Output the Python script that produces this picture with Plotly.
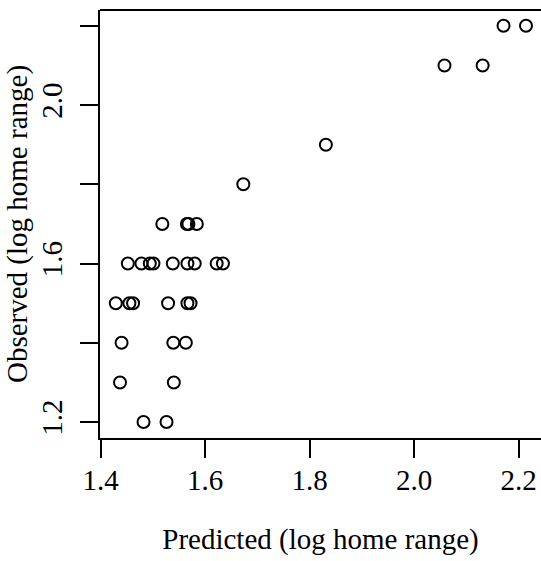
import plotly.graph_objects as go

predicted = [2.171, 2.214, 2.058, 2.131, 1.831, 1.673,
             1.518, 1.565, 1.568, 1.584,
             1.452, 1.478, 1.494, 1.501, 1.538, 1.566, 1.580, 1.622, 1.634,
             1.429, 1.455, 1.462, 1.529, 1.566, 1.572,
             1.440, 1.539, 1.563,
             1.437, 1.540,
             1.482, 1.526]
observed = [2.2, 2.2, 2.1, 2.1, 1.9, 1.8,
            1.7, 1.7, 1.7, 1.7,
            1.6, 1.6, 1.6, 1.6, 1.6, 1.6, 1.6, 1.6, 1.6,
            1.5, 1.5, 1.5, 1.5, 1.5, 1.5,
            1.4, 1.4, 1.4,
            1.3, 1.3,
            1.2, 1.2]

x_ticks = [1.4, 1.6, 1.8, 2.0, 2.2]
x_ticklabels = ["1.4", "1.6", "1.8", "2.0", "2.2"]
y_ticks = [1.2, 1.4, 1.6, 1.8, 2.0, 2.2]
y_ticklabels = ["1.2", "", "1.6", "", "2.0", ""]

FONT = "Liberation Serif, Times New Roman, serif"
FS = 29

fig = go.Figure()
fig.add_trace(go.Scatter(
    x=predicted, y=observed, mode="markers",
    marker=dict(symbol="circle-open", size=12, color="black",
                line=dict(width=2, color="black")),
    showlegend=False, cliponaxis=False,
))

fig.update_layout(
    width=541, height=561,
    margin=dict(l=100, r=0, t=10, b=123),
    paper_bgcolor="white", plot_bgcolor="white",
    font=dict(family=FONT, size=FS, color="black"),
    xaxis=dict(
        range=[1.3987, 2.2427], showgrid=False, zeroline=False,
        showline=True, linecolor="black", linewidth=2,
        ticks="outside", ticklen=18, tickwidth=2, tickcolor="black",
        tickvals=x_ticks, ticktext=x_ticklabels, ticklabelstandoff=-3,
        tickfont=dict(family=FONT, size=FS),
        title=dict(text="Predicted (log home range)", font=dict(family=FONT, size=FS), standoff=34),
    ),
    yaxis=dict(
        range=[1.1598, 2.2399], showgrid=False, zeroline=False,
        showline=True, linecolor="black", linewidth=2,
        ticks="outside", ticklen=18, tickwidth=2, tickcolor="black",
        tickvals=y_ticks, ticktext=y_ticklabels, tickangle=-90, ticklabelstandoff=6,
        tickfont=dict(family=FONT, size=FS),
        title=dict(text="Observed (log home range)", font=dict(family=FONT, size=FS), standoff=0),
    ),
    shapes=[dict(type="line", xref="paper", yref="paper", x0=0, x1=1, y0=1, y1=1,
                 line=dict(color="black", width=2))],
)

fig.write_html("out.html")
